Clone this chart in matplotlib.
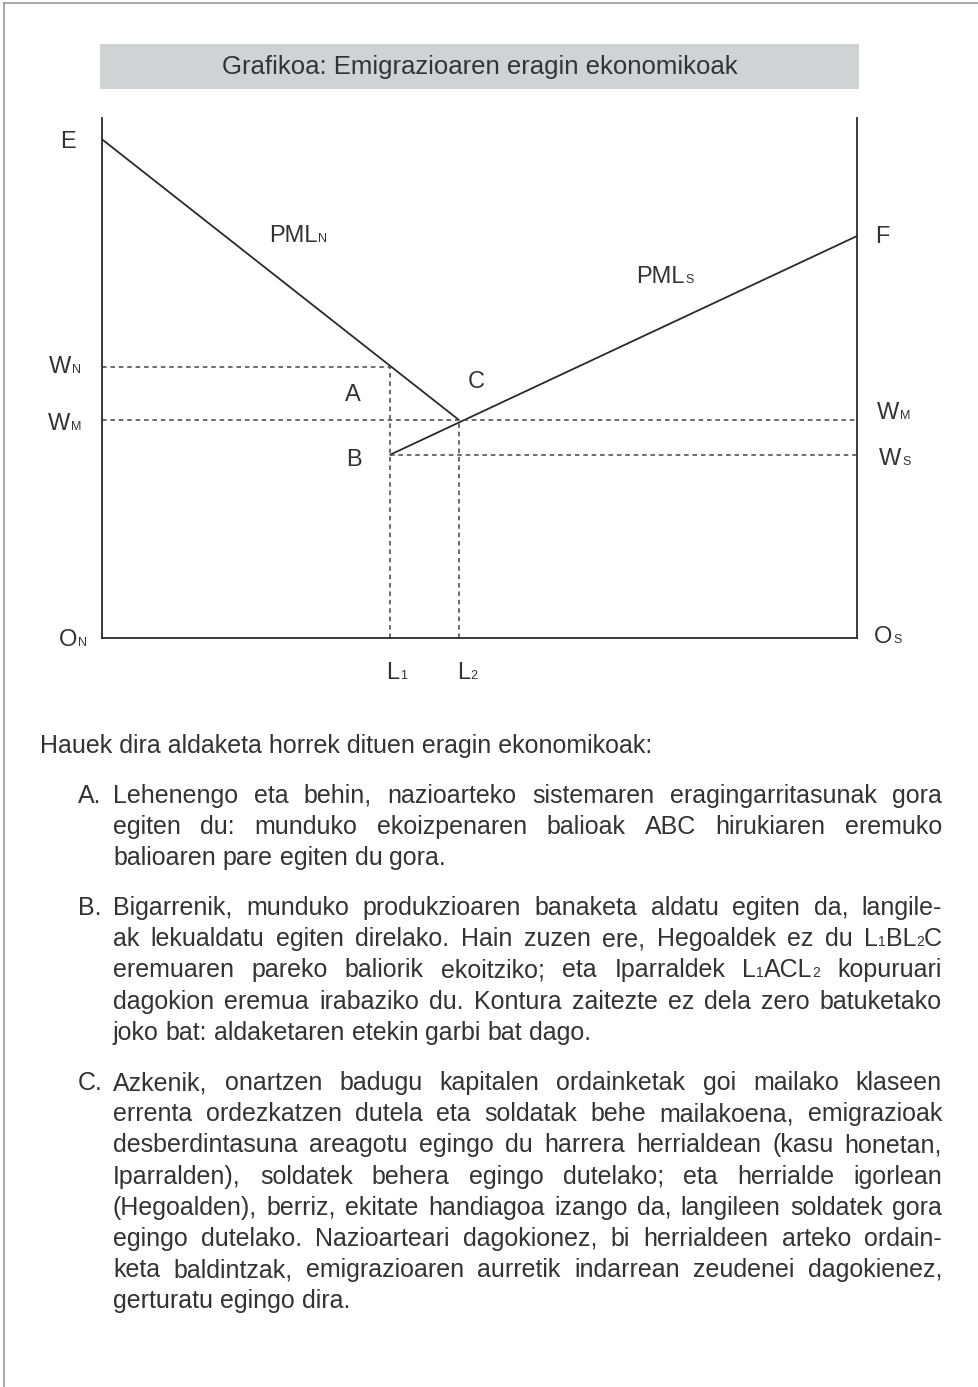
import matplotlib
matplotlib.use("Agg")
import matplotlib.pyplot as plt
from matplotlib.font_manager import FontProperties
from matplotlib.patches import Rectangle

plt.rcParams['font.family'] = ['Liberation Sans', 'DejaVu Sans']

# --- Datos del gráfico (unidades del recuadro: trabajo 0-100, salario 0-100) ---
L1, L2 = 38.1, 47.3
W_N, W_M, W_S = 52.1, 41.9, 35.2
E_WAGE, F_WAGE = 95.9, 77.3
pmln_x = [0, L2]
pmln_y = [E_WAGE, W_M]
pmls_x = [L1, 100]
pmls_y = [W_S, F_WAGE]

TITLE = "Grafikoa: Emigrazioaren eragin ekonomikoak"
INTRO = "Hauek dira aldaketa horrek dituen eragin ekonomikoak:"
ITEM_A = [
    "Lehenengo eta behin, nazioarteko sistemaren eragingarritasunak gora",
    "egiten du: munduko ekoizpenaren balioak ABC hirukiaren eremuko",
    "balioaren pare egiten du gora.",
]
ITEM_B = [
    "Bigarrenik, munduko produkzioaren banaketa aldatu egiten da, langile-",
    "ak lekualdatu egiten direlako. Hain zuzen ere, Hegoaldek ez du L_1BL_2C",
    "eremuaren pareko baliorik ekoitziko; eta Iparraldek L_1ACL_2 kopuruari",
    "dagokion eremua irabaziko du. Kontura zaitezte ez dela zero batuketako",
    "joko bat: aldaketaren etekin garbi bat dago.",
]
ITEM_C = [
    "Azkenik, onartzen badugu kapitalen ordainketak goi mailako klaseen",
    "errenta ordezkatzen dutela eta soldatak behe mailakoena, emigrazioak",
    "desberdintasuna areagotu egingo du harrera herrialdean (kasu honetan,",
    "Iparralden), soldatek behera egingo dutelako; eta herrialde igorlean",
    "(Hegoalden), berriz, ekitate handiagoa izango da, langileen soldatek gora",
    "egingo dutelako. Nazioarteari dagokionez, bi herrialdeen arteko ordain-",
    "keta baldintzak, emigrazioaren aurretik indarrean zeudenei dagokienez,",
    "gerturatu egingo dira.",
]

TXT = '#333333'
LINE_C = '#2a2a2a'
W, H, DPI = 979, 1387, 100
LBL, SUB, BODY, BSUB = 17, 9, 18, 10

fig = plt.figure(figsize=(W / DPI, H / DPI), dpi=DPI, facecolor='white')
page = fig.add_axes([0, 0, 1, 1])
page.set_xlim(0, W)
page.set_ylim(H, 0)
page.axis('off')
renderer = fig.canvas.get_renderer()


def text_w(s, size):
    fp = FontProperties(family=['Liberation Sans'], size=size)
    w, h, d = renderer.get_text_width_height_descent(s, fp, ismath=False)
    return w


def runs_of(word):
    # "_x" marca un carácter pequeño (subíndice en la línea base)
    runs, i = [], 0
    while i < len(word):
        if word[i] == '_' and i + 1 < len(word):
            runs.append((word[i + 1], True))
            i += 2
        else:
            if runs and not runs[-1][1]:
                runs[-1] = (runs[-1][0] + word[i], False)
            else:
                runs.append((word[i], False))
            i += 1
    return runs


def word_w(word):
    return sum(text_w(s, BSUB if small else BODY) for s, small in runs_of(word))


def draw_word(x, y, word):
    for s, small in runs_of(word):
        size = BSUB if small else BODY
        page.text(x, y, s, fontsize=size, color=TXT, ha='left', va='baseline')
        x += text_w(s, size)


SPACE = text_w('a a', BODY) - 2 * text_w('a', BODY)


def draw_line(line, x_left, x_right, y, justify):
    words = line.split()
    widths = [word_w(w) for w in words]
    gap = SPACE
    if justify and len(words) > 1:
        gap = (x_right - x_left - sum(widths)) / (len(words) - 1)
    x = x_left
    for w, wd in zip(words, widths):
        draw_word(x, y, w)
        x += wd + gap


# --- Marco de la página ---
page.plot([4, 4], [3, H], color='#9a9a9a', lw=1.2)
page.plot([4, W], [3, 3], color='#9a9a9a', lw=1.2)

# --- Título ---
page.add_patch(Rectangle((100, 44), 759, 45, fc='#d1d2d4', ec='none'))
page.text(479.5, 67, TITLE, fontsize=18.5, color=TXT, ha='center', va='center')

# --- Gráfico ---
X0, X1, YT, YB = 102, 857, 118, 638
ax = fig.add_axes([X0 / W, (H - YB) / H, (X1 - X0) / W, (YB - YT) / H])
ax.set_xlim(0, 100)
ax.set_ylim(0, 100)
ax.set_facecolor('none')
ax.set_xticks([])
ax.set_yticks([])
ax.spines['top'].set_visible(False)
for s in ['left', 'right', 'bottom']:
    ax.spines[s].set_color(LINE_C)
    ax.spines[s].set_linewidth(1.3)

ax.plot(pmln_x, pmln_y, color=LINE_C, lw=1.3, solid_capstyle='butt')
ax.plot(pmls_x, pmls_y, color=LINE_C, lw=1.3, solid_capstyle='butt')

dash = dict(color='#444444', lw=1.1, ls=(0, (3, 2.5)))
ax.plot([0, L1], [W_N, W_N], **dash)
ax.plot([L1, L1], [0, W_N], **dash)
ax.plot([0, 100], [W_M, W_M], **dash)
ax.plot([L1, 100], [W_S, W_S], **dash)
ax.plot([L2, L2], [0, W_M], **dash)


def label(x, y, main, sub=''):
    ax.text(x, y, main, fontsize=LBL, color=TXT, ha='left', va='baseline', clip_on=False)
    if sub:
        off = text_w(main, LBL) * 72 / DPI + 0.6
        ax.annotate(sub, xy=(x, y), xytext=(off, 0), textcoords='offset points',
                    fontsize=SUB, color=TXT, ha='left', va='baseline', annotation_clip=False)


label(-5.6, 94.2, 'E')
label(22.1, 76.2, 'PML', 'N')
label(70.7, 68.3, 'PML', 'S')
label(102.4, 76.0, 'F')
label(102.6, 42.1, 'W', 'M')
label(102.9, 33.3, 'W', 'S')
label(102.3, -1.0, 'O', 'S')
label(-7.0, 51.0, 'W', 'N')
label(-7.15, 40.0, 'W', 'M')
label(32.2, 45.6, 'A')
label(32.3, 33.1, 'B')
label(48.5, 48.1, 'C')
label(-5.7, -1.5, 'O', 'N')
label(37.6, -7.9, 'L', '1')
label(47.0, -7.9, 'L', '2')

# --- Texto ---
LS = 31.2
page.text(40, 753, INTRO, fontsize=BODY, color=TXT, ha='left', va='baseline')
for tag, lines, y0 in [('A.', ITEM_A, 803), ('B.', ITEM_B, 915), ('C.', ITEM_C, 1090)]:
    page.text(78, y0, tag, fontsize=BODY, color=TXT, ha='left', va='baseline')
    for i, ln in enumerate(lines):
        draw_line(ln, 113, 942, y0 + i * LS, justify=(i < len(lines) - 1))

fig.savefig('out.png', dpi=DPI, facecolor='white')
